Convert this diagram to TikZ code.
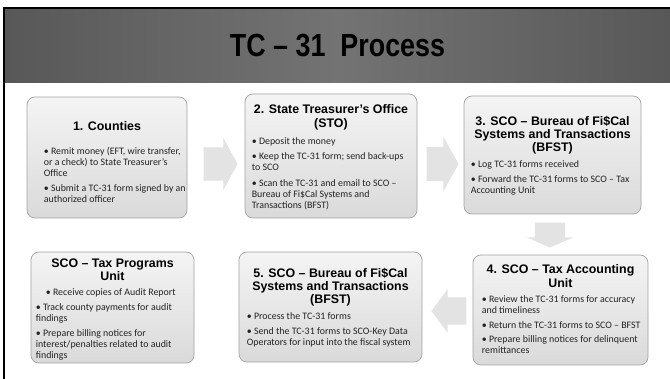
\documentclass[tikz,border=0pt]{standalone}
\usepackage{fontspec}
\setmainfont{Carlito}
\newfontfamily\headfont{Liberation Sans}[FakeStretch=0.84]
\newfontfamily\boxfont{Liberation Sans}
\usepackage{tikz}
\usetikzlibrary{positioning,shapes.arrows}

\definecolor{headdark}{HTML}{585858}
\definecolor{headlight}{HTML}{737373}
\definecolor{boxtop}{HTML}{F4F4F4}
\definecolor{boxbottom}{HTML}{DADADA}
\definecolor{boxline}{HTML}{A3A3A3}
\definecolor{flowgray}{HTML}{E3E3E3}
\definecolor{bodytext}{HTML}{222222}

\tikzset{
	stagebox/.style={rectangle, draw=boxline, line width=0.7pt, rounded corners=8pt, top color=boxtop, bottom color=boxbottom, inner sep=0pt},
	stagetitle/.style={anchor=north, inner sep=0pt, align=center, font=\boxfont\bfseries\fontsize{12.4}{13.2}\selectfont},
	stagetext/.style={anchor=north west, inner sep=0pt, align=left, text=bodytext, font=\fontsize{9.9}{11}\selectfont},
	% shaft half width, head extend, length, tip angle
	flow/.style n args={4}{single arrow, draw=none, fill=flowgray, inner xsep=0pt, inner ysep=#1, single arrow head extend=#2, minimum height=#3, single arrow tip angle=#4}
}

\begin{document}
\begin{tikzpicture}[x=1pt, y=-1pt]
	\useasboundingbox (0,0) rectangle (670,379);
	\fill[white] (0,0) rectangle (670,379);

	% title bar
	\node[rectangle, inner sep=0pt, minimum width=665pt, minimum height=74pt, left color=headdark, right color=headdark, middle color=headlight, font=\headfont\bfseries\fontsize{32}{32}\selectfont] (header) at (337.5,46) {TC – 31\ \ Process};
	\draw[line width=2pt] (4,379) -- (4,8) -- (670,8);

	% top row
	\node[stagebox, minimum width=160pt, minimum height=121pt] (counties) at (107,157.5) {};
	\node[stagebox, minimum width=172pt, minimum height=124pt] (sto) at (331,156) {};
	\node[stagebox, minimum width=177pt, minimum height=118pt] (bfst) at (552.5,155) {};

	% bottom row
	\node[stagebox, minimum width=175pt, minimum height=110pt] (tau) at (560.5,310) {};
	\node[stagebox, minimum width=183pt, minimum height=110pt] (keydata) at (330.5,307) {};
	\node[stagebox, minimum width=163pt, minimum height=111pt] (taxprog) at (112.5,307.5) {};

	\node[stagetitle] (countiesT) at ([yshift=-25pt]counties.north) {1. Counties};
	\node[stagetext] (countiesB) at ([xshift=17pt, yshift=-50.5pt]counties.north west) {\textbullet\ Remit money (EFT, wire transfer,\\or a check) to State Treasurer’s\\Office\\[3.5pt]\textbullet\ Submit a TC-31 form signed by an\\authorized officer};

	\node[stagetitle] (stoT) at ([yshift=-11pt]sto.north) {2. State Treasurer’s Office\\(STO)};
	\node[stagetext] (stoB) at ([xshift=7pt, yshift=-43.5pt]sto.north west) {\textbullet\ Deposit the money\\[4.5pt]\textbullet\ Keep the TC-31 form; send back-ups\\to SCO\\[4.5pt]\textbullet\ Scan the TC-31 and email to SCO –\\Bureau of Fi\$Cal Systems and\\Transactions (BFST)};

	\node[stagetitle] (bfstT) at ([yshift=-20pt]bfst.north) {3. SCO – Bureau of Fi\$Cal\\Systems and Transactions\\(BFST)};
	\node[stagetext] (bfstB) at ([xshift=7pt, yshift=-64.5pt]bfst.north west) {\textbullet\ Log TC-31 forms received\\[4.5pt]\textbullet\ Forward the TC-31 forms to SCO – Tax\\Accounting Unit};

	\node[stagetitle] (tauT) at ([yshift=-10pt]tau.north) {4. SCO – Tax Accounting\\Unit};
	\node[stagetext] (tauB) at ([xshift=9pt, yshift=-41pt]tau.north west) {\textbullet\ Review the TC-31 forms for accuracy\\and timeliness\\[3.5pt]\textbullet\ Return the TC-31 forms to SCO – BFST\\[3.5pt]\textbullet\ Prepare billing notices for delinquent\\remittances};

	\node[stagetitle] (keydataT) at ([yshift=-16pt]keydata.north) {5. SCO – Bureau of Fi\$Cal\\Systems and Transactions\\(BFST)};
	\node[stagetext] (keydataB) at ([xshift=8pt, yshift=-60.5pt]keydata.north west) {\textbullet\ Process the TC-31 forms\\[4pt]\textbullet\ Send the TC-31 forms to SCO-Key Data\\Operators for input into the fiscal system};

	\node[stagetitle] (taxprogT) at ([yshift=-6.5pt]taxprog.north) {SCO – Tax Programs\\Unit};
	\node[stagetext] (taxprogB) at ([xshift=5pt, yshift=-36.5pt]taxprog.north west) {\hspace*{10pt}\textbullet\ Receive copies of Audit Report\\[4.5pt]\textbullet\ Track county payments for audit\\findings\\[4pt]\textbullet\ Prepare billing notices for\\interest/penalties related to audit\\findings};

	% block arrows between the stages
	\node[flow={16.5pt}{9.5pt}{34pt}{123}, anchor=tail] (a1) at ([xshift=16pt, yshift=-6.5pt]counties.east) {};
	\node[flow={17pt}{10pt}{32pt}{122}, anchor=tail] (a2) at ([xshift=9pt, yshift=-8pt]sto.east) {};
	\node[flow={15pt}{8pt}{25pt}{133}, rotate=-90, anchor=tail] (a3) at ([xshift=-2.5pt, yshift=-8pt]bfst.south) {};
	\node[flow={13.5pt}{8pt}{35pt}{107}, rotate=180, anchor=tail] (a4) at ([xshift=-6pt, yshift=-1pt]tau.west) {};
\end{tikzpicture}
\end{document}
